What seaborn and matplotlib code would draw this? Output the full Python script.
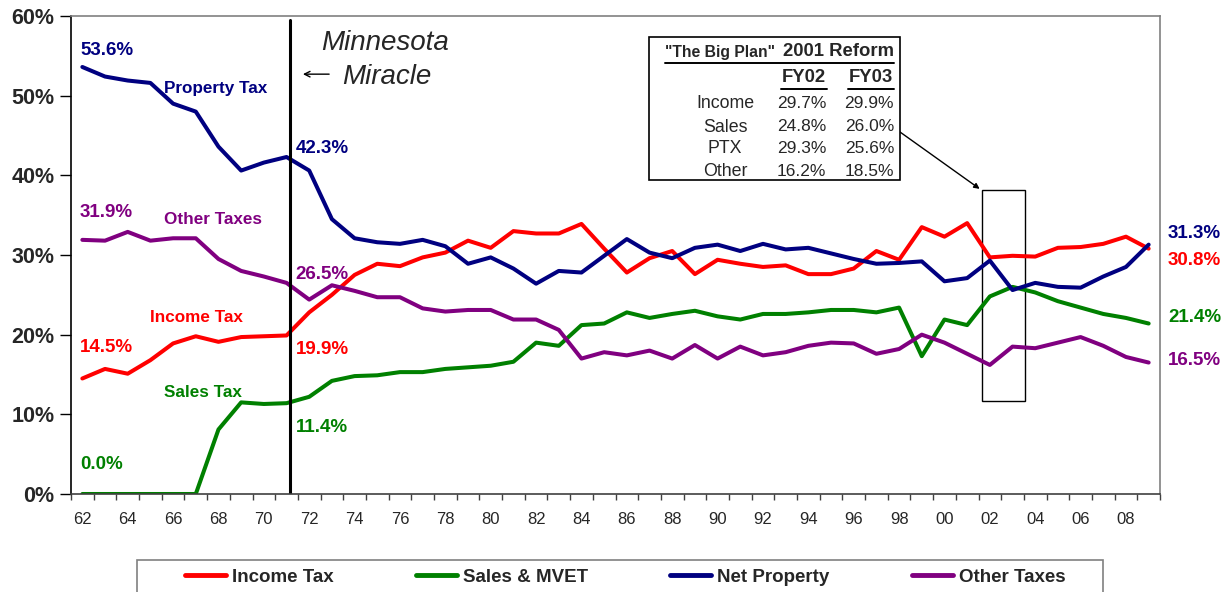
import matplotlib
matplotlib.use('Agg')
import matplotlib.pyplot as plt
from matplotlib.patches import Rectangle
from matplotlib.lines import Line2D
import seaborn as sns
import pandas as pd
import numpy as np

years = list(range(1962, 2010))

income_tax = [14.5, 15.7, 15.1, 16.8, 18.9, 19.8, 19.1, 19.7, 19.8, 19.9,
              22.8, 25.0, 27.5, 28.9, 28.6, 29.7, 30.3, 31.8, 30.9, 33.0,
              32.7, 32.7, 33.9, 30.8, 27.8, 29.6, 30.5, 27.6, 29.4, 28.9,
              28.5, 28.7, 27.6, 27.6, 28.3, 30.5, 29.4, 33.5, 32.3, 34.0,
              29.7, 29.9, 29.8, 30.9, 31.0, 31.4, 32.3, 30.8]
sales_mvet = [0.0, 0.0, 0.0, 0.0, 0.0, 0.0, 8.1, 11.5, 11.3, 11.4,
              12.2, 14.2, 14.8, 14.9, 15.3, 15.3, 15.7, 15.9, 16.1, 16.6,
              19.0, 18.6, 21.2, 21.4, 22.8, 22.1, 22.6, 23.0, 22.3, 21.9,
              22.6, 22.6, 22.8, 23.1, 23.1, 22.8, 23.4, 17.3, 21.9, 21.2,
              24.8, 26.0, 25.3, 24.2, 23.4, 22.6, 22.1, 21.4]
net_property = [53.6, 52.4, 51.9, 51.6, 49.0, 48.0, 43.6, 40.6, 41.6, 42.3,
                40.6, 34.5, 32.1, 31.6, 31.4, 31.9, 31.1, 28.9, 29.7, 28.3,
                26.4, 28.0, 27.8, 29.9, 32.0, 30.3, 29.6, 30.9, 31.3, 30.5,
                31.4, 30.7, 30.9, 30.2, 29.5, 28.9, 29.0, 29.2, 26.7, 27.1,
                29.3, 25.6, 26.5, 26.0, 25.9, 27.3, 28.5, 31.3]
other_taxes = [31.9, 31.8, 32.9, 31.8, 32.1, 32.1, 29.5, 28.0, 27.3, 26.5,
               24.4, 26.2, 25.5, 24.7, 24.7, 23.3, 22.9, 23.1, 23.1, 21.9,
               21.9, 20.6, 17.0, 17.8, 17.4, 18.0, 17.0, 18.7, 17.0, 18.5,
               17.4, 17.8, 18.6, 19.0, 18.9, 17.6, 18.2, 20.0, 19.0, 17.6,
               16.2, 18.5, 18.3, 19.0, 19.7, 18.6, 17.2, 16.5]

series_names = ['Income Tax', 'Sales & MVET', 'Net Property', 'Other Taxes']
colors = {'Income Tax': '#FF0000', 'Sales & MVET': '#008000',
          'Net Property': '#000080', 'Other Taxes': '#800080'}

table_rows = ['Income', 'Sales', 'PTX', 'Other']
table_fy02 = ['29.7%', '24.8%', '29.3%', '16.2%']
table_fy03 = ['29.9%', '26.0%', '25.6%', '18.5%']

df = pd.DataFrame({'Year': years * 4,
                   'Share': income_tax + sales_mvet + net_property + other_taxes,
                   'Series': sum([[s] * len(years) for s in series_names], [])})

sns.set_style('white')
plt.rcParams['font.family'] = ['Liberation Sans', 'DejaVu Sans']

fig = plt.figure(figsize=(12.25, 5.92), dpi=100)
ax = fig.add_axes([71 / 1225, 98 / 592, 1089 / 1225, 478 / 592])

sns.lineplot(data=df, x='Year', y='Share', hue='Series', hue_order=series_names,
             palette=colors, linewidth=2.9, ax=ax, legend=False)

ax.set_xlim(1961.5, 2009.5)
ax.set_ylim(0, 60)
ax.set_xlabel('')
ax.set_ylabel('')

# category boundaries get tick marks, labels sit at every other year
ax.set_xticks(np.arange(1961.5, 2010, 1))
ax.set_xticklabels([])
ax.set_xticks(np.arange(1962, 2010, 2), minor=True)
ax.set_xticklabels([f'{y % 100:02d}' for y in range(1962, 2010, 2)], minor=True, fontsize=12)
ax.tick_params(axis='x', which='major', direction='out', length=4, width=1, color='#404040', bottom=True)
ax.tick_params(axis='x', which='minor', length=0, pad=13)
ax.set_yticks(range(0, 61, 10))
ax.set_yticklabels([f'{v}%' for v in range(0, 61, 10)], fontsize=15.5, fontweight='bold')
ax.tick_params(axis='y', direction='out', length=8, width=1, color='black', left=True, pad=4)

ax.spines['left'].set_color('black')
ax.spines['bottom'].set_color('#404040')
for side in ['left', 'bottom']:
    ax.spines[side].set_linewidth(1.2)
for side in ['top', 'right']:
    ax.spines[side].set_color('#808080')
    ax.spines[side].set_linewidth(1.2)

# Minnesota Miracle marker
ax.plot([1971.15, 1971.15], [0, 59.5], color='black', lw=2.2)
ax.text(1975.34, 56.6, 'Minnesota', fontsize=20, style='italic', ha='center', va='center')
ax.text(1975.4, 52.3, 'Miracle', fontsize=20, style='italic', ha='center', va='center')
ax.annotate('', xy=(1971.6, 52.7), xytext=(1973.0, 52.7),
            arrowprops=dict(arrowstyle='->', lw=1, color='black'))

lab = dict(fontsize=13.5, fontweight='bold', va='center', ha='left')
name = dict(fontsize=12.3, fontweight='bold', va='center', ha='left')
ax.text(1961.9, 55.7, '53.6%', color=colors['Net Property'], **lab)
ax.text(1965.6, 50.9, 'Property Tax', color=colors['Net Property'], **name)
ax.text(1971.4, 43.4, '42.3%', color=colors['Net Property'], **lab)
ax.text(1961.9, 35.3, '31.9%', color=colors['Other Taxes'], **lab)
ax.text(1965.6, 34.4, 'Other Taxes', color=colors['Other Taxes'], **name)
ax.text(1971.4, 27.6, '26.5%', color=colors['Other Taxes'], **lab)
ax.text(1965.0, 22.2, 'Income Tax', color=colors['Income Tax'], **name)
ax.text(1961.9, 18.4, '14.5%', color=colors['Income Tax'], **lab)
ax.text(1971.4, 18.2, '19.9%', color=colors['Income Tax'], **lab)
ax.text(1965.6, 12.8, 'Sales Tax', color=colors['Sales & MVET'], **name)
ax.text(1971.4, 8.3, '11.4%', color=colors['Sales & MVET'], **lab)
ax.text(1961.9, 3.7, '0.0%', color=colors['Sales & MVET'], **lab)
ax.text(2009.85, 32.7, '31.3%', color=colors['Net Property'], **lab)
ax.text(2009.85, 29.3, '30.8%', color=colors['Income Tax'], **lab)
ax.text(2009.85, 22.1, '21.4%', color=colors['Sales & MVET'], **lab)
ax.text(2009.85, 16.7, '16.5%', color=colors['Other Taxes'], **lab)

# highlight box for FY02-FY03
ax.add_patch(Rectangle((2001.65, 11.7), 1.9, 26.4, fill=False, edgecolor='black', lw=1))
ax.annotate('', xy=(2001.65, 38.1), xycoords='data',
            xytext=(893 / 1225, 1 - 127 / 592), textcoords='figure fraction',
            arrowprops=dict(arrowstyle='-|>', lw=1, color='black', mutation_scale=8))


# inset table, placed in figure pixels
def fx(px):
    return px / 1225


def fy(py):
    return 1 - py / 592


fig.patches.append(Rectangle((fx(649), fy(180)), fx(900) - fx(649), fy(37) - fy(180),
                             transform=fig.transFigure, fill=True, facecolor='white',
                             edgecolor='black', lw=1.2, zorder=5))
fig.text(fx(665), fy(52), '"The Big Plan"', fontsize=11.3, fontweight='bold', va='center', zorder=6)
fig.text(fx(894), fy(52), '2001 Reform', fontsize=13.3, fontweight='bold', va='center', ha='right', zorder=6)
fig.lines.append(Line2D([fx(665), fx(894)], [fy(63), fy(63)], transform=fig.transFigure, color='black', lw=1.4, zorder=6))
for label, cx in [('FY02', 804), ('FY03', 871)]:
    fig.text(fx(cx), fy(78), label, fontsize=13.3, fontweight='bold', ha='center', va='center', zorder=6)
    fig.lines.append(Line2D([fx(cx - 23), fx(cx + 23)], [fy(89), fy(89)], transform=fig.transFigure,
                            color='black', lw=1.4, zorder=6))
row_y = [102, 125, 147, 170]
for rname, v2, v3, py in zip(table_rows, table_fy02, table_fy03, row_y):
    fig.text(fx(725), fy(py), rname, fontsize=12.8, ha='center', va='center_baseline', zorder=6)
    fig.text(fx(826), fy(py), v2, fontsize=12.5, ha='right', va='center_baseline', zorder=6)
    fig.text(fx(894), fy(py), v3, fontsize=12.5, ha='right', va='center_baseline', zorder=6)

# legend, with its box drawn by hand and cut off at the bottom like the original
fig.patches.append(Rectangle((fx(137), fy(600)), fx(1103) - fx(137), fy(560) - fy(600),
                             transform=fig.transFigure, fill=False, edgecolor='#808080', lw=1.2))
handles = [Line2D([], [], color=colors[s], lw=3.5) for s in series_names]
leg = fig.legend(handles, series_names, loc='center', ncol=4,
                 bbox_to_anchor=(fx(625), fy(577)), frameon=False, borderaxespad=0,
                 handlelength=2.2, handletextpad=0.3, columnspacing=4.4,
                 prop={'family': ['Liberation Sans Narrow', 'Liberation Sans'], 'weight': 'bold', 'size': 13.5})

fig.savefig('out.png', dpi=100)
